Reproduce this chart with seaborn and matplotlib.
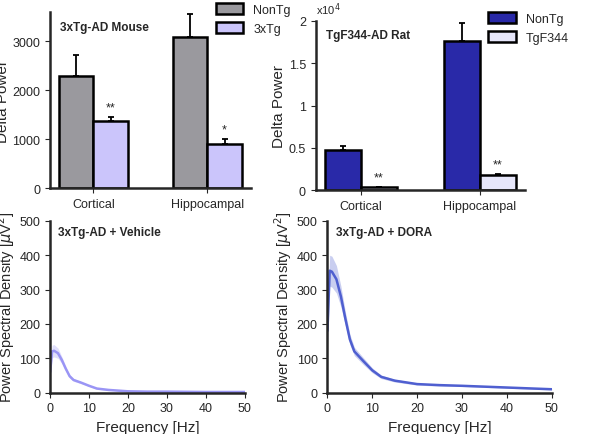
import matplotlib
matplotlib.use("Agg")
import matplotlib.pyplot as plt
import seaborn as sns
import pandas as pd
import numpy as np

sns.set_style("ticks")
plt.rcParams['font.family'] = ['Liberation Sans', 'DejaVu Sans']

regions = ["Cortical", "Hippocampal"]
mouse_groups = ["NonTg", "3xTg"]
mouse_vals = {"NonTg": [2300, 3100], "3xTg": [1380, 900]}
mouse_err = {"NonTg": [420, 450], "3xTg": [70, 110]}
mouse_sig = ["**", "*"]
rat_groups = ["NonTg", "TgF344"]
rat_vals = {"NonTg": [4800, 17600], "TgF344": [400, 1800]}
rat_err = {"NonTg": [400, 2100], "TgF344": [50, 100]}
rat_sig = ["**", "**"]

freq = [0, 0.5, 1, 2, 3, 4, 5, 6, 8, 10, 12, 15, 20, 25, 30, 40, 50]
veh_mean = [60, 120, 122, 115, 95, 70, 48, 37, 29, 20, 12, 8, 4, 3, 3, 2, 2]
veh_err = [10, 18, 18, 15, 10, 7, 5, 4, 3, 2, 2, 1, 1, 1, 1, 1, 1]
dora_mean = [180, 355, 352, 330, 280, 215, 155, 120, 92, 65, 46, 35, 25, 22, 20, 15, 10]
dora_err = [40, 45, 45, 40, 30, 20, 15, 12, 10, 7, 5, 4, 3, 3, 2, 2, 2]

fig = plt.figure(figsize=(5.9, 4.35), dpi=100)

def bar_panel(rect, groups, vals, errs, sig, colors, title, ylim, ticks, ticklabels, fmt_off):
    ax = fig.add_axes(rect)
    rows = [(r, g, vals[g][i]) for g in groups for i, r in enumerate(regions)]
    df = pd.DataFrame(rows, columns=["region", "group", "value"])
    sns.barplot(data=df, x="region", y="value", hue="group", hue_order=groups,
                palette=colors, edgecolor="black", linewidth=1.8, width=0.6, ax=ax,
                errorbar=None, saturation=1)
    for gi, g in enumerate(groups):
        cont = ax.containers[gi]
        for i, p in enumerate(cont.patches):
            xc = p.get_x() + p.get_width() / 2
            ax.errorbar(xc, vals[g][i], yerr=[[0], [errs[g][i]]], color="black", capsize=2, lw=1.3, capthick=1.3)
            if gi == 1:
                ax.text(xc, vals[g][i] + errs[g][i] + ylim[1] * 0.02, sig[i], ha="center", va="bottom", fontsize=9)
    ax.set_ylim(*ylim)
    ax.set_yticks(ticks)
    ax.set_yticklabels(ticklabels, fontsize=9)
    ax.set_xlabel("")
    ax.set_ylabel("Delta Power", fontsize=11, labelpad=2)
    ax.tick_params(axis="x", labelsize=9)
    ax.text(0.05, 0.95, title, transform=ax.transAxes, fontsize=8.5, fontweight="bold", va="top")
    ax.legend(loc="upper left", bbox_to_anchor=(0.8, 1.08), frameon=False, fontsize=9,
              handlelength=2.2, handleheight=1.0, borderaxespad=0)
    if fmt_off:
        ax.text(0, 1.02, r"x10$^4$", transform=ax.transAxes, fontsize=8, va="bottom")
    for s in ["left", "bottom"]:
        ax.spines[s].set_linewidth(1.8)
    sns.despine(ax=ax)
    return ax

bar_panel([0.085, 0.565, 0.34, 0.405], mouse_groups, mouse_vals, mouse_err, mouse_sig,
          ["#9a999e", "#cbc5fb"], "3xTg-AD Mouse", (0, 3600), [0, 1000, 2000, 3000],
          ["0", "1000", "2000", "3000"], False)
bar_panel([0.535, 0.56, 0.355, 0.39], rat_groups, rat_vals, rat_err, rat_sig,
          ["#2929a8", "#e6e6fa"], "TgF344-AD Rat", (0, 20000), [0, 5000, 10000, 15000, 20000],
          ["0", "0.5", "1", "1.5", "2"], True)

def psd_panel(rect, mean, err, color, title):
    ax = fig.add_axes(rect)
    df = pd.DataFrame({"f": freq, "p": mean})
    sns.lineplot(data=df, x="f", y="p", color=color, lw=1.8, ax=ax)
    ax.fill_between(freq, np.array(mean) - np.array(err), np.array(mean) + np.array(err),
                    color=color, alpha=0.3, lw=0)
    ax.set_xlim(0, 50)
    ax.set_ylim(0, 500)
    ax.set_xticks([0, 10, 20, 30, 40, 50])
    ax.set_yticks([0, 100, 200, 300, 400, 500])
    ax.tick_params(labelsize=9)
    ax.set_xlabel("Frequency [Hz]", fontsize=11)
    ax.set_ylabel(r"Power Spectral Density [$\mu$V$^2$]", fontsize=10.5, labelpad=2)
    ax.text(0.04, 0.97, title, transform=ax.transAxes, fontsize=8.5, fontweight="bold", va="top")
    for s in ["left", "bottom"]:
        ax.spines[s].set_linewidth(1.8)
    sns.despine(ax=ax)

psd_panel([0.085, 0.095, 0.33, 0.395], veh_mean, veh_err, "#9a95f5", "3xTg-AD + Vehicle")
psd_panel([0.555, 0.095, 0.38, 0.395], dora_mean, dora_err, "#4f5fd0", "3xTg-AD + DORA")

fig.savefig("out.png", dpi=100)
